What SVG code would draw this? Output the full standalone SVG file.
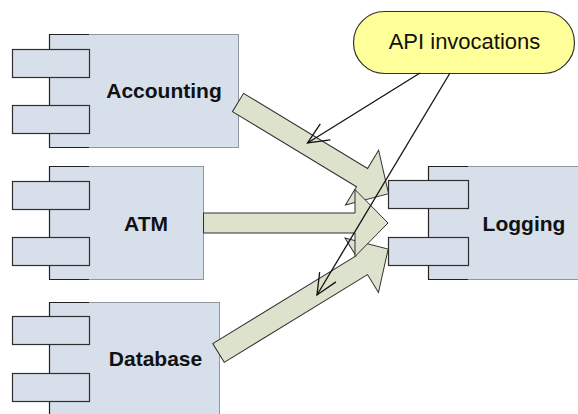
<svg xmlns="http://www.w3.org/2000/svg" width="578" height="414" viewBox="0 0 578 414">
  <style>
    .body { fill: #d6dfea; stroke: #8e979f; stroke-width: 1; }
    .edge { fill: none; stroke: #222; stroke-width: 1.2; }
    .port { fill: #d6dfea; stroke: #2e2e2e; stroke-width: 1.2; }
    .label { font-family: "Liberation Sans", Arial, sans-serif; font-weight: bold; font-size: 21px; fill: #111; text-anchor: middle; }
    .flow { fill: #dde2cc; stroke: #2f2f2f; stroke-width: 1; stroke-linejoin: miter; }
    .call { fill: none; stroke: #111; stroke-width: 1.3; }
    .note { fill: #ffff99; stroke: #333; stroke-width: 1.2; }
    .note-text { font-family: "Liberation Sans", Arial, sans-serif; font-size: 22px; fill: #111; text-anchor: middle; }
  </style>
  <defs>
    <!-- open two-stroke arrowhead for the note pointers -->
    <marker id="open" markerUnits="userSpaceOnUse" markerWidth="30" markerHeight="30" refX="0" refY="0" viewBox="-25 -15 30 30" orient="auto" overflow="visible">
      <path d="M -21 -9.5 L 0 0 L -21 9.5" fill="none" stroke="#111" stroke-width="1.3"/>
    </marker>
  </defs>

  <!-- component nodes -->
  <g id="accounting">
    <rect class="body" x="49.5" y="34.5" width="189" height="113"/>
    <path class="edge" d="M 89 34.5 H 49.5 V 147.5 H 89"/>
    <rect class="port" x="12.5" y="49.5" width="77" height="28"/>
    <rect class="port" x="12.5" y="105.5" width="77" height="28"/>
    <text class="label" x="164" y="98">Accounting</text>
  </g>

  <g id="atm">
    <rect class="body" x="49.5" y="166.5" width="154" height="113"/>
    <path class="edge" d="M 89 166.5 H 49.5 V 279.5 H 89"/>
    <rect class="port" x="12.5" y="181.5" width="77" height="28"/>
    <rect class="port" x="12.5" y="237.5" width="77" height="28"/>
    <text class="label" x="146" y="231">ATM</text>
  </g>

  <g id="database">
    <rect class="body" x="49.5" y="302.5" width="170" height="130"/>
    <path class="edge" d="M 89 302.5 H 49.5 V 420"/>
    <rect class="port" x="12.5" y="316.5" width="77" height="28"/>
    <rect class="port" x="12.5" y="373.5" width="77" height="28"/>
    <text class="label" x="155.5" y="366">Database</text>
  </g>

  <g id="logging">
    <rect class="body" x="428.5" y="166.5" width="160" height="113"/>
    <path class="edge" d="M 468 166.5 H 428.5 V 279.5 H 468"/>
    <rect class="port" x="388.5" y="180.5" width="80" height="28"/>
    <rect class="port" x="388.5" y="237.5" width="80" height="28"/>
    <text class="label" x="524" y="231">Logging</text>
  </g>

  <g id="api-invocations">
    <rect class="note" x="353.5" y="11.5" width="221" height="62" rx="31" ry="31"/>
    <text class="note-text" x="464.5" y="49">API invocations</text>
  </g>

  <!-- connectors -->
  <g id="connectors">
    <!-- data flows into Logging -->
    <path class="flow" transform="translate(238 102.5) rotate(31.2)" d="M 0 -10.7 H 145 V -32 L 176 0 L 145 32 V 10.7 H 0 Z"/>
    <path class="flow" transform="translate(218.5 353) rotate(-31.5)" d="M 0 -11 H 168 V -32 L 199 0 L 168 32 V 11 H 0 Z"/>
    <path class="flow" d="M 203.5 213 H 355 V 189.5 L 388 223 L 355 256.5 V 233 H 203.5 Z"/>
    <!-- pointers from the note -->
    <line class="call" x1="420" y1="73" x2="307.5" y2="143" marker-end="url(#open)"/>
    <line class="call" x1="450" y1="73" x2="317" y2="295" marker-end="url(#open)"/>
  </g>
</svg>
